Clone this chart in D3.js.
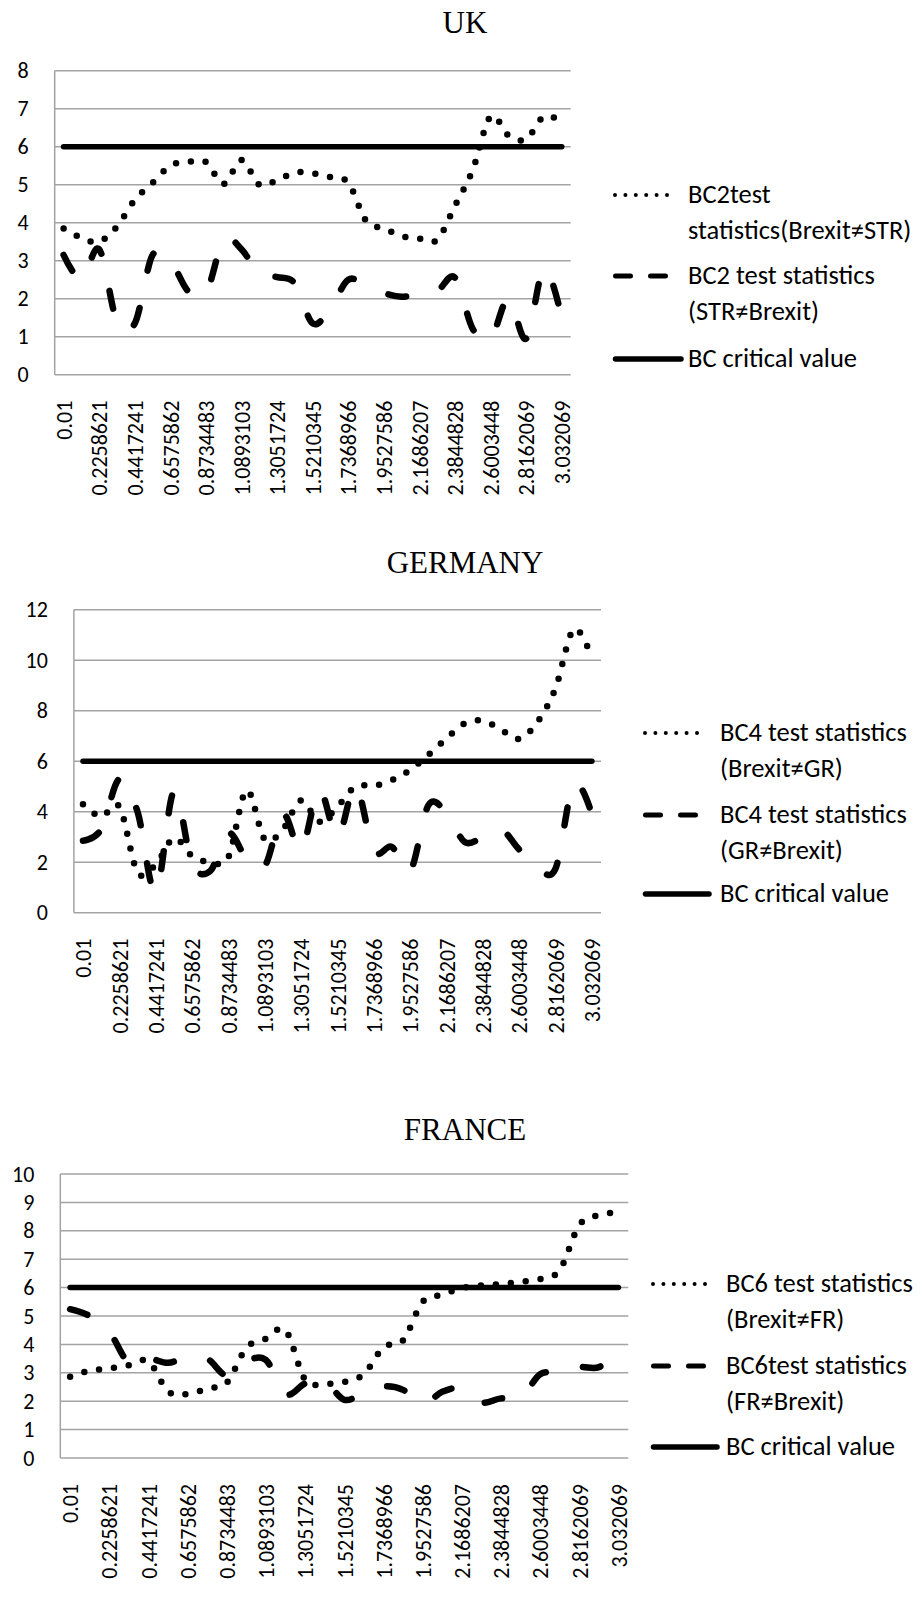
<!DOCTYPE html>
<html>
<head>
<meta charset="utf-8">
<title>BC test statistics</title>
<style>
body{margin:0;background:#fff}
.tick text{font-family:Calibri, Carlito, Lato, sans-serif;font-size:22px;fill:#000}
.legend text{font-family:Calibri, Carlito, Lato, sans-serif;font-size:26.5px;fill:#000}
.title{font-family:"Times New Roman","Liberation Serif",serif;font-size:31px;fill:#000}
</style>
</head>
<body>
<script src="https://cdn.jsdelivr.net/npm/d3@7/dist/d3.min.js"></script>
<script>
var categories = ["0.01","0.117931","0.2258621","0.3337931","0.4417241","0.5496552","0.6575862",
  "0.7655172","0.8734483","0.9813793","1.0893103","1.1972414","1.3051724","1.4131034","1.5210345",
  "1.6289655","1.7368966","1.8448276","1.9527586","2.0606897","2.1686207","2.2765517","2.3844828",
  "2.4924138","2.6003448","2.7082759","2.8162069","2.9241379","3.032069"];

// only every other category gets a label
var tickLabels = ["0.01","0.2258621","0.4417241","0.6575862","0.8734483","1.0893103","1.3051724",
  "1.5210345","1.7368966","1.9527586","2.1686207","2.3844828","2.6003448","2.8162069","3.032069"];

var ukDotted = [3.85,3.6,3.5,3.9,4.6,5.05,5.5,5.6,5.6,5.02,5.65,5.0,5.12,5.32,5.3,5.2,5.05,4.05,3.85,3.65,3.58,3.55,4.45,5.4,6.8,6.3,6.2,6.8,6.65];
var ukDashed = [3.15,2.5,3.3,1.4,1.35,3.15,3.0,2.2,2.15,3.55,3.3,2.65,2.57,2.4,1.35,1.75,2.5,2.35,2.15,2.05,2.13,2.2,2.55,1.2,0.95,2.0,0.95,2.8,1.5];

var deDotted = [4.3,3.8,4.2,1.6,1.9,2.95,2.25,2.0,2.2,4.85,2.9,3.3,4.45,3.6,4.2,5.0,5.02,5.25,5.65,6.25,6.9,7.5,7.6,7.25,6.88,7.55,8.9,11.23,10.1];
var deDashed = [2.85,3.3,5.3,4.0,0.8,4.8,1.95,1.65,3.15,2.15,1.85,3.9,2.5,4.85,3.0,5.0,2.45,2.6,1.65,4.25,3.95,2.8,3.0,3.3,2.5,1.8,1.75,5.1,3.9];

var frDotted = [2.86,3.08,3.15,3.27,3.4,2.35,2.25,2.45,2.65,3.88,4.2,4.5,2.75,2.62,2.68,2.95,3.9,4.14,5.5,5.75,5.98,6.08,6.12,6.21,6.3,6.62,8.2,8.55,8.65];
var frDashed = [5.24,5.0,4.45,3.35,3.5,3.35,3.55,3.5,2.9,3.4,3.45,2.25,2.62,2.7,2.05,2.3,2.52,2.4,1.9,2.33,2.45,1.96,2.1,2.1,2.95,3.0,3.2,3.2,3.7];

var bcCritical = [6,6,6,6,6,6,6,6,6,6,6,6,6,6,6,6,6,6,6,6,6,6,6,6,6,6,6,6,6];

var ukLegend = [["BC2test","statistics(Brexit\u2260STR)"],["BC2 test statistics","(STR\u2260Brexit)"],["BC critical value"]];
var deLegend = [["BC4 test statistics","(Brexit\u2260GR)"],["BC4 test statistics","(GR\u2260Brexit)"],["BC critical value"]];
var frLegend = [["BC6 test statistics","(Brexit\u2260FR)"],["BC6test statistics","(FR\u2260Brexit)"],["BC critical value"]];

var panels = [
  {title:"UK", titleY:33, x0:54.7, x1:570.7, y0:70.7, y1:374.7, yMax:8, yStep:1,
   dotted:ukDotted, dashed:ukDashed, legend:ukLegend, lx:613, lw:66, tx:688, ly:[195,276,359]},
  {title:"GERMANY", titleY:573, x0:73.9, x1:601, y0:609.7, y1:912.7, yMax:12, yStep:2,
   dotted:deDotted, dashed:deDashed, legend:deLegend, lx:643, lw:64, tx:720, ly:[733,815,894]},
  {title:"FRANCE", titleY:1140, x0:60.3, x1:628.3, y0:1174, y1:1458, yMax:10, yStep:1,
   dotted:frDotted, dashed:frDashed, legend:frLegend, lx:651, lw:64, tx:726, ly:[1284,1366,1447]}
];

var W = 921, H = 1601;
var svg = d3.select("body").append("svg").attr("width", W).attr("height", H);

panels.forEach(function(p){
  var g = svg.append("g");
  var x = d3.scalePoint().domain(categories).range([p.x0, p.x1]).padding(0.5);
  var y = d3.scaleLinear().domain([0, p.yMax]).range([p.y1, p.y0]);
  var yTicks = d3.range(0, p.yMax + 0.001, p.yStep);

  g.append("text").attr("class", "title").attr("x", 465).attr("y", p.titleY)
    .attr("text-anchor", "middle").text(p.title);

  // grid
  g.selectAll(".grid").data(yTicks).enter().append("line")
    .attr("x1", p.x0).attr("x2", p.x1)
    .attr("y1", function(d){ return y(d) }).attr("y2", function(d){ return y(d) })
    .attr("stroke", "#a3a3a3").attr("stroke-width", 1.5);
  g.append("line").attr("x1", p.x0).attr("x2", p.x0).attr("y1", p.y0).attr("y2", p.y1)
    .attr("stroke", "#a3a3a3").attr("stroke-width", 1.5);

  var yAxis = g.append("g").attr("transform", "translate(" + p.x0 + ",0)")
    .call(d3.axisLeft(y).tickValues(yTicks).tickSize(0).tickPadding(26));
  yAxis.select(".domain").remove();
  yAxis.selectAll("text").attr("font-family", null).attr("font-size", null);

  var xAxis = g.append("g").attr("transform", "translate(0," + p.y1 + ")")
    .call(d3.axisBottom(x).tickValues(tickLabels).tickSize(0));
  xAxis.select(".domain").remove();
  xAxis.selectAll("text")
    .attr("transform", "rotate(-90)")
    .attr("x", -26).attr("y", 0).attr("dy", "0.35em")
    .attr("text-anchor", "end");

  var line = d3.line()
    .x(function(d, i){ return x(categories[i]) })
    .y(function(d){ return y(d) })
    .curve(d3.curveCardinal.tension(0));

  g.append("path").datum(p.dotted).attr("d", line).attr("fill", "none")
    .attr("stroke", "#000").attr("stroke-width", 6.5)
    .attr("stroke-linecap", "round").attr("stroke-dasharray", "0 15");
  g.append("path").datum(p.dashed).attr("d", line).attr("fill", "none")
    .attr("stroke", "#000").attr("stroke-width", 6.5)
    .attr("stroke-linecap", "round").attr("stroke-dasharray", "18 38");
  g.append("path").datum(bcCritical).attr("d", line).attr("fill", "none")
    .attr("stroke", "#000").attr("stroke-width", 5.5).attr("stroke-linecap", "round");

  // legend
  var lg = g.append("g").attr("class", "legend");
  var styles = [
    {w:4, dash:"0 10.4", a:2, b:p.lw - 2},
    {w:5, dash:"15 20", a:2.5, b:52.5},
    {w:5.5, dash:null, a:2.5, b:p.lw + 2}
  ];
  p.legend.forEach(function(lines, i){
    var s = styles[i], ly = p.ly[i];
    lg.append("line").attr("x1", p.lx + s.a).attr("x2", p.lx + s.b)
      .attr("y1", ly).attr("y2", ly)
      .attr("stroke", "#000").attr("stroke-width", s.w)
      .attr("stroke-linecap", "round").attr("stroke-dasharray", s.dash);
    lines.forEach(function(t, j){
      lg.append("text").attr("x", p.tx).attr("y", ly + 8 + j * 35.5).text(t);
    });
  });
});
</script>
</body>
</html>
